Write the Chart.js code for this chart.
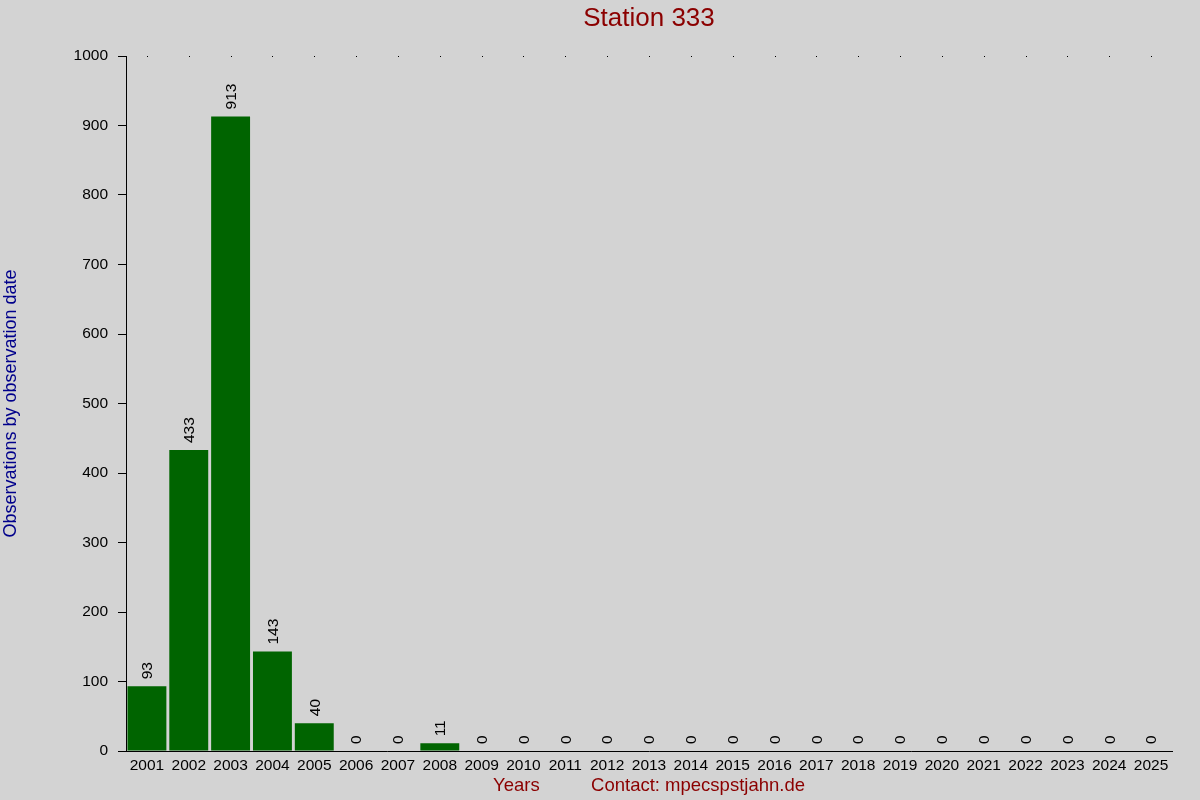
<!DOCTYPE html>
<html>
<head>
<meta charset="utf-8">
<script src="https://cdn.jsdelivr.net/npm/chart.js@4"></script>
<style>
  html, body { margin: 0; padding: 0; background: #d3d3d3; }
  #wrap { width: 1200px; height: 800px; }
</style>
</head>
<body>
<div id="wrap"><canvas id="stationChart" width="1200" height="800"></canvas></div>
<script>
// Données
const years = ['2001', '2002', '2003', '2004', '2005', '2006', '2007', '2008', '2009', '2010',
    '2011', '2012', '2013', '2014', '2015', '2016', '2017', '2018', '2019', '2020',
    '2021', '2022', '2023', '2024', '2025'];
const observations = [93, 433, 913, 143, 40, 0, 0, 11, 0, 0,
    0, 0, 0, 0, 0, 0, 0, 0, 0, 0,
    0, 0, 0, 0, 0];
const yTicks = [0, 100, 200, 300, 400, 500, 600, 700, 800, 900, 1000];

const colors = {
    bg: '#d3d3d3',
    bar: '#006400',
    text: '#000000',
    title: '#8b0000',
    yTitle: '#00008b'
};

Chart.defaults.font.family = "'Liberation Sans', Arial, sans-serif";
Chart.defaults.color = colors.text;

// Fond, petits points en haut et valeurs au-dessus des barres
const decorations = {
    id: 'decorations',
    beforeDraw(chart) {
        const ctx = chart.ctx;
        ctx.save();
        ctx.fillStyle = colors.bg;
        ctx.fillRect(0, 0, chart.width, chart.height);
        ctx.restore();
    },
    afterDatasetsDraw(chart) {
        const ctx = chart.ctx;
        const xs = chart.scales.x;
        const ys = chart.scales.y;
        const meta = chart.getDatasetMeta(0);
        ctx.save();
        ctx.fillStyle = colors.text;
        years.forEach((label, i) => {
            const x = Math.round(xs.getPixelForValue(i));
            ctx.fillRect(x, Math.round(ys.getPixelForValue(ys.max)), 1, 1);
        });
        ctx.font = "15.5px 'Liberation Sans', Arial, sans-serif";
        ctx.textAlign = 'left';
        ctx.textBaseline = 'middle';
        meta.data.forEach((bar, i) => {
            ctx.save();
            ctx.translate(bar.x, bar.y - 7);
            ctx.rotate(-Math.PI / 2);
            ctx.fillText(String(observations[i]), 0, 1);
            ctx.restore();
        });
        ctx.restore();
    }
};

new Chart(document.getElementById('stationChart'), {
    type: 'bar',
    data: {
        labels: years,
        datasets: [{
            data: observations,
            backgroundColor: colors.bar,
            borderWidth: 0,
            barPercentage: 0.93,
            categoryPercentage: 1
        }]
    },
    options: {
        responsive: false,
        animation: false,
        layout: { padding: { left: 0, right: 28, top: 0, bottom: 0 } },
        plugins: {
            legend: { display: false },
            tooltip: { enabled: false },
            title: {
                display: true,
                fullSize: false,
                text: 'Station 333',
                color: colors.title,
                font: { size: 26, weight: 'normal' },
                padding: { top: 3.2, bottom: 21.6 }
            }
        },
        scales: {
            x: {
                grid: { display: false, drawTicks: false },
                border: { display: true, color: '#000', width: 1 },
                ticks: { padding: 5, font: { size: 15.5 }, color: colors.text, maxRotation: 0, autoSkip: false },
                title: {
                    display: true,
                    text: 'Years          Contact: mpecspstjahn.de',
                    color: colors.title,
                    font: { size: 18.5 },
                    padding: { top: 0, bottom: 3 }
                },
                afterFit(scale) { scale.height = 49; }
            },
            y: {
                min: 0,
                max: 1000,
                afterBuildTicks(scale) { scale.ticks = yTicks.map(v => ({ value: v })); },
                grid: { drawOnChartArea: false, drawTicks: true, tickLength: 8, color: '#000' },
                border: { display: true, color: '#000', width: 1 },
                ticks: {
                    padding: 10,
                    font: { size: 15.5 },
                    color: colors.text,
                    callback: v => String(v)
                },
                title: {
                    display: true,
                    text: 'Observations by observation date',
                    color: colors.yTitle,
                    font: { size: 18 },
                    padding: 0
                },
                afterFit(scale) { scale.width = 126; }
            }
        }
    },
    plugins: [decorations]
});
</script>
</body>
</html>
